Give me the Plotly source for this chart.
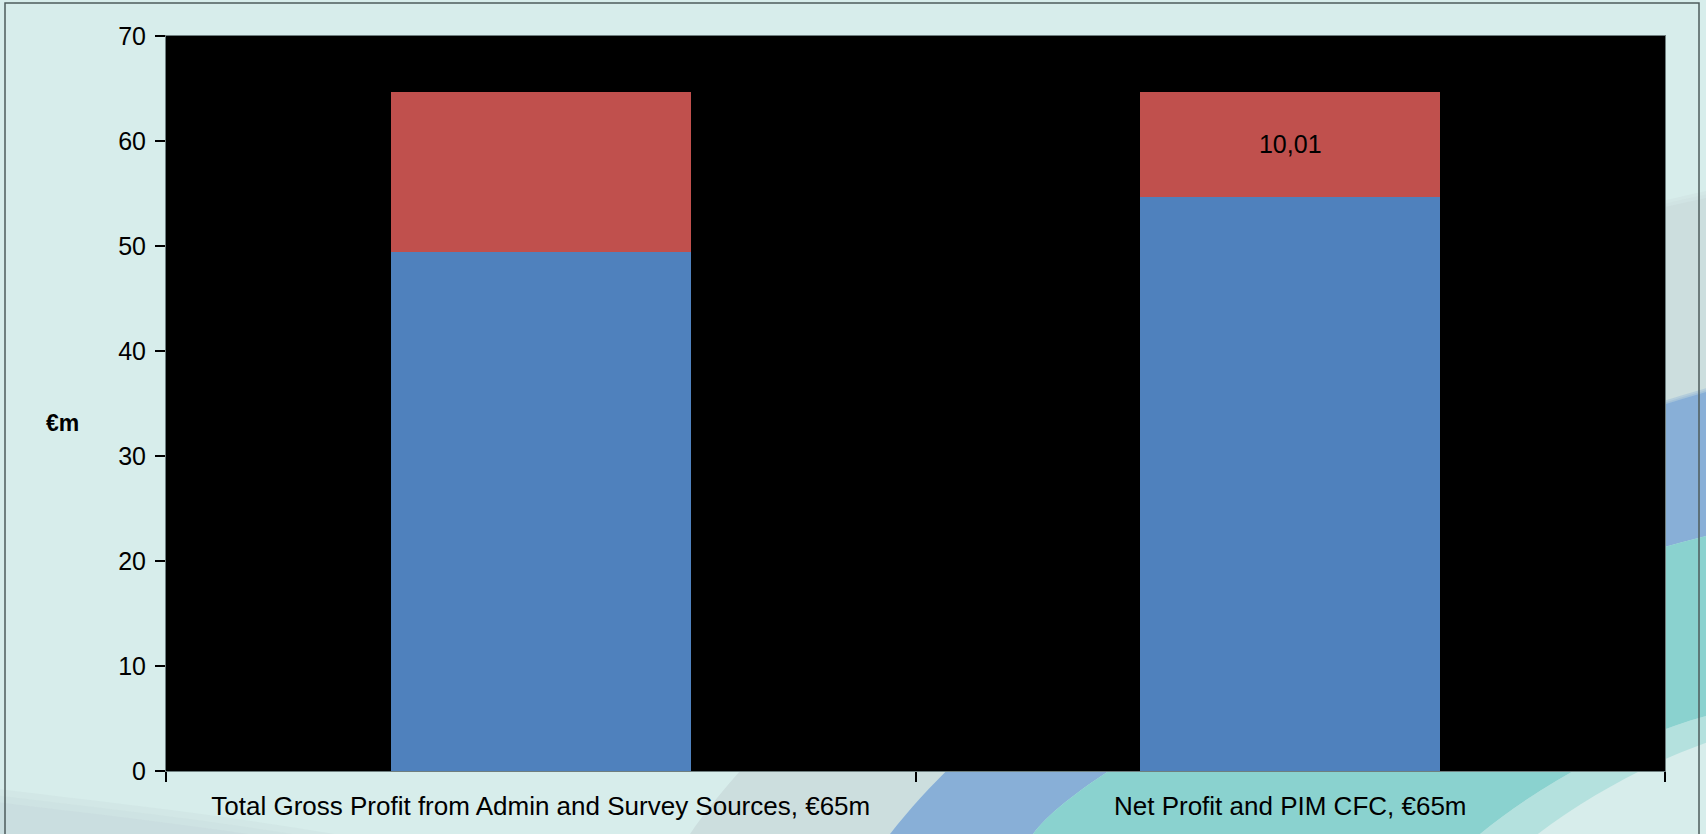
import plotly.graph_objects as go

# ---- data ----
categories = [
    "Total Gross Profit from Admin and Survey Sources, €65m",
    "Net Profit and PIM CFC, €65m",
]
base_values = [49.43, 54.70]     # lower (blue) segment, €m
top_values = [15.24, 10.01]      # upper (red) segment, €m
top_label_shown = [False, True]  # which upper segments carry a value label
y_tick_values = [0, 10, 20, 30, 40, 50, 60, 70]
y_axis_title = "€m"

# ---- layout geometry (pixels) ----
W, H = 1706, 834
ML, MR, MT, MB = 166, 41, 36, 63
PW, PH = W - ML - MR, H - MT - MB

FONT = "Liberation Sans, Arial, sans-serif"
BG = "#D7EDEB"


def pt(x, y):
    """Pixel position -> paper coordinates string for shape paths."""
    return f"{(x - ML) / PW:.5f},{(H - MB - y) / PH:.5f}"


def shift(curve, dx, dy):
    return tuple((x + dx, y + dy) for x, y in curve)


def band(upper, lower):
    """Closed path between two curves, each given as (start, c1, c2, end)."""
    u0, u1, u2, u3 = upper
    l0, l1, l2, l3 = lower
    return (
        f"M{pt(*u0)} C{pt(*u1)} {pt(*u2)} {pt(*u3)} "
        f"L{pt(1730, u3[1])} L{pt(1730, l3[1])} L{pt(*l3)} "
        f"C{pt(*l2)} {pt(*l1)} {pt(*l0)} Z"
    )


def sweep(upper, lower, color, soft=(0, 0), opacity=1.0):
    """A background sweep; a soft upper edge is built from translucent layers."""
    out = []
    ux, uy = soft
    steps = 3 if (ux or uy) else 1
    for i in range(steps):
        k = (steps - 1 - i) / max(steps - 1, 1)
        up = shift(upper, -ux * k, -uy * k)
        out.append(dict(type="path", path=band(up, lower), fillcolor=color,
                        opacity=opacity if k == 0 else 0.35,
                        line=dict(width=0), layer="below",
                        xref="paper", yref="paper"))
    return out


# background sweep curves, from lower-left to the right edge
gray_top = ((690, 834), (780, 700), (1200, 300), (1706, 198))
blue_top = ((890, 834), (1027, 659), (1299, 511), (1706, 392))
teal_top = ((1033, 834), (1075, 776), (1300, 640), (1706, 536))
teal_bot = ((1480, 834), (1540, 785), (1620, 740), (1706, 716))
corner_top = ((-20, 800), (100, 815), (250, 830), (400, 860))
corner_bot = ((-20, 900), (100, 900), (250, 900), (400, 900))

shapes = []
shapes += sweep(corner_top, corner_bot, "#C9DCDE", soft=(-10, 12), opacity=0.7)
shapes += sweep(gray_top, blue_top, "#CCDEDE", soft=(-14, 10))
shapes += sweep(blue_top, teal_top, "#88AFD7", soft=(-8, 6))
shapes += sweep(teal_top, teal_bot, "#8AD2CF")
shapes += sweep(teal_bot, shift(teal_bot, 40, 14), "#8AD2CF", opacity=0.45)
shapes += [
    # plot area
    dict(type="rect", x0=0, x1=1, y0=0, y1=1, xref="paper", yref="paper",
         fillcolor="#000000", line=dict(width=0), layer="below"),
    # outer frame
    dict(type="rect", xref="paper", yref="paper",
         x0=(5 - ML) / PW, x1=(1699 - ML) / PW,
         y0=(H - MB - 840) / PH, y1=(H - MB - 3) / PH,
         fillcolor="rgba(0,0,0,0)", line=dict(color="#4E5C5C", width=1.5),
         layer="below"),
]

top_text = [f"{v:.2f}".replace(".", ",") if s else "" for v, s in zip(top_values, top_label_shown)]

fig = go.Figure()
fig.add_trace(go.Bar(
    x=categories, y=base_values, width=0.4,
    marker=dict(color="#4F81BD", line=dict(width=0)),
    showlegend=False, hoverinfo="skip",
))
fig.add_trace(go.Bar(
    x=categories, y=top_values, width=0.4,
    marker=dict(color="#C0504D", line=dict(width=0)),
    text=top_text, textposition="inside", insidetextanchor="middle",
    textangle=0, constraintext="none",
    insidetextfont=dict(family=FONT, size=25, color="#000000"),
    showlegend=False, hoverinfo="skip",
))

fig.update_layout(
    width=W, height=H,
    margin=dict(l=ML, r=MR, t=MT, b=MB, pad=0),
    barmode="stack",
    paper_bgcolor=BG,
    plot_bgcolor="rgba(0,0,0,0)",
    font=dict(family=FONT, color="#000000"),
    shapes=shapes,
    xaxis=dict(
        type="category", tickson="boundaries", ticks="outside", ticklen=10,
        tickcolor="#000000", tickwidth=1.5, ticklabelstandoff=12,
        showline=True, linecolor="#6F7F7F", linewidth=1, mirror=True,
        showgrid=False, tickfont=dict(size=26, family=FONT),
    ),
    yaxis=dict(
        range=[0, 70], tickvals=y_tick_values, ticks="outside", ticklen=10,
        tickcolor="#000000", tickwidth=1.5, ticklabelstandoff=4,
        showline=True, linecolor="#6F7F7F", linewidth=1, mirror=True,
        showgrid=False, zeroline=False, tickfont=dict(size=25, family=FONT),
    ),
    annotations=[dict(
        text=f"<b>{y_axis_title}</b>", xref="paper", yref="paper",
        x=(62 - ML) / PW, y=(H - MB - 423) / PH,
        xanchor="center", yanchor="middle", showarrow=False,
        font=dict(family=FONT, size=23, color="#000000"),
    )],
)

fig.write_html("out.html")
